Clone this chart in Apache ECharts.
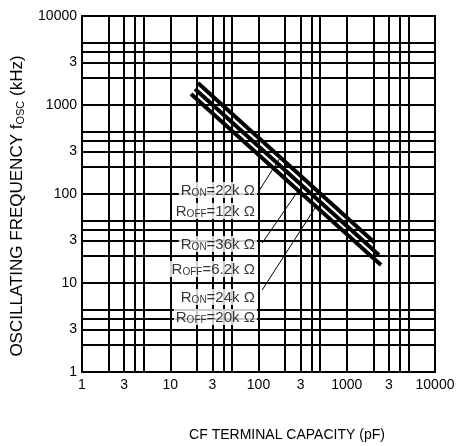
<!DOCTYPE html>
<html><head><meta charset="utf-8">
<script src="https://cdn.jsdelivr.net/npm/echarts@6/dist/echarts.min.js"></script>
<style>html,body{margin:0;padding:0;background:#fff}#c{width:459px;height:446px}</style>
</head><body><div id="c"></div>
<script>
// Tick labels
const xTickValues = [1, 3, 10, 30, 100, 300, 1000, 3000, 10000];
const xTickLabels = ['1', '3', '10', '3', '100', '3', '1000', '3', '10000'];
const yTickValues = [1, 3, 10, 30, 100, 300, 1000, 3000, 10000];
const yTickLabels = ['1', '3', '10', '3', '100', '3', '1000', '3', '10000'];
// Grid lines (both axes)
const gridValues = [1, 2, 3, 4, 5, 10, 20, 30, 40, 50, 100, 200, 300, 400, 500,
                    1000, 2000, 3000, 4000, 5000, 10000];
// Curves: [capacity pF, frequency kHz]
const curveA = [[20.6, 1767], [2090, 28.1]];   // RON=22k, ROFF=12k
const curveB = [[19.1, 1513], [2318, 20.6]];   // RON=36k, ROFF=6.2k
const curveC = [[17.2, 1330], [2445, 15.9]];   // RON=24k, ROFF=20k
// Annotation texts and anchor points (right end of label)
const labelTexts = [
  ['R', 'ON', '=22k Ω'],
  ['R', 'OFF', '=12k Ω'],
  ['R', 'ON', '=36k Ω'],
  ['R', 'OFF', '=6.2k Ω'],
  ['R', 'ON', '=24k Ω'],
  ['R', 'OFF', '=20k Ω']
];
const labelAnchors = [[96, 111], [96, 64.4], [96, 27.4], [96, 14.4], [96, 6.96], [96, 4.15]];
// Leader lines
const leader1 = [[101, 108], [175, 254]];
const leader2 = [[110, 28.1], [280, 108]];
const leader3 = [[110, 8.34], [437, 69.6]];

function lookup(vals, labels, v) {
  for (let i = 0; i < vals.length; i++) if (Math.abs(Math.log10(v) - Math.log10(vals[i])) < 0.01) return labels[i];
  return '';
}

const chart = echarts.init(document.getElementById('c'), null, {renderer: 'canvas'});
const FONT = 'Liberation Sans';
const gridMark = gridValues.map(v => ({xAxis: v})).concat(gridValues.map(v => ({yAxis: v})));

const option = {
  animation: false,
  backgroundColor: '#fff',
  textStyle: {fontFamily: FONT, color: '#000'},
  grid: {left: 82, top: 16, right: 24, bottom: 74, show: true, borderColor: '#000', borderWidth: 2, backgroundColor: 'transparent'},
  xAxis: {
    type: 'log', logBase: 10, min: 1, max: 10000,
    axisLine: {show: true, lineStyle: {color: '#000', width: 2}},
    axisTick: {show: false},
    splitLine: {show: false},
    axisLabel: {
      customValues: xTickValues,
      formatter: v => lookup(xTickValues, xTickLabels, v),
      color: '#000', fontSize: 14, fontFamily: FONT, margin: 6
    }
  },
  yAxis: {
    type: 'log', logBase: 10, min: 1, max: 10000,
    axisLine: {show: true, lineStyle: {color: '#000', width: 2}},
    axisTick: {show: false},
    splitLine: {show: false},
    axisLabel: {
      customValues: yTickValues,
      formatter: v => lookup(yTickValues, yTickLabels, v),
      color: '#000', fontSize: 14, fontFamily: FONT, margin: 5
    }
  },
  graphic: [
    {
      type: 'text', x: 287, y: 435, z: 10,
      style: {text: 'CF TERMINAL CAPACITY (pF)', font: '14px "Liberation Sans"', fill: '#000', align: 'center', verticalAlign: 'middle'}
    },
    {
      type: 'text', x: 16, y: 206, rotation: Math.PI / 2, z: 10,
      style: {
        text: '{m|OSCILLATING FREQUENCY f}{s|OSC}{m| (kHz)}',
        align: 'center', verticalAlign: 'middle',
        rich: {
          m: {fontSize: 17, fontFamily: FONT, fill: '#000', lineHeight: 20, verticalAlign: 'bottom'},
          s: {fontSize: 11, fontFamily: FONT, fill: '#000', lineHeight: 12, verticalAlign: 'bottom'}
        }
      }
    }
  ],
  series: [
    {
      type: 'line', data: [[1, 1]], showSymbol: false, lineStyle: {opacity: 0}, silent: true, z: 1,
      markLine: {
        silent: true, symbol: ['none', 'none'], label: {show: false},
        lineStyle: {color: '#000', width: 2, type: 'solid'},
        emphasis: {disabled: true},
        data: gridMark
      }
    },
    {type: 'line', data: curveA, showSymbol: false, lineStyle: {color: '#000', width: 4}, z: 3},
    {type: 'line', data: curveB, showSymbol: false, lineStyle: {color: '#000', width: 4}, z: 3},
    {type: 'line', data: curveC, showSymbol: false, lineStyle: {color: '#000', width: 4}, z: 3},
    {type: 'line', data: leader1, showSymbol: false, lineStyle: {color: '#000', width: 1}, z: 4},
    {type: 'line', data: leader2, showSymbol: false, lineStyle: {color: '#000', width: 1}, z: 4},
    {type: 'line', data: leader3, showSymbol: false, lineStyle: {color: '#000', width: 1}, z: 4},
    {
      type: 'scatter', symbolSize: 0, z: 5,
      data: labelAnchors.map((p, i) => ({value: p, t: labelTexts[i]})),
      label: {
        show: true, position: 'left', distance: 0,
        backgroundColor: '#fff', padding: [0, 2, 0, 2],
        formatter: p => '{r|' + labelTexts[p.dataIndex][0] + '}{s|' + labelTexts[p.dataIndex][1] + '}{r|' + labelTexts[p.dataIndex][2] + '}',
        rich: {
          r: {fontSize: 15, fontFamily: FONT, color: '#000', lineHeight: 16, verticalAlign: 'bottom'},
          s: {fontSize: 10, fontFamily: FONT, color: '#000', lineHeight: 10, verticalAlign: 'bottom'}
        }
      }
    }
  ]
};
chart.setOption(option);
</script>
</body></html>
